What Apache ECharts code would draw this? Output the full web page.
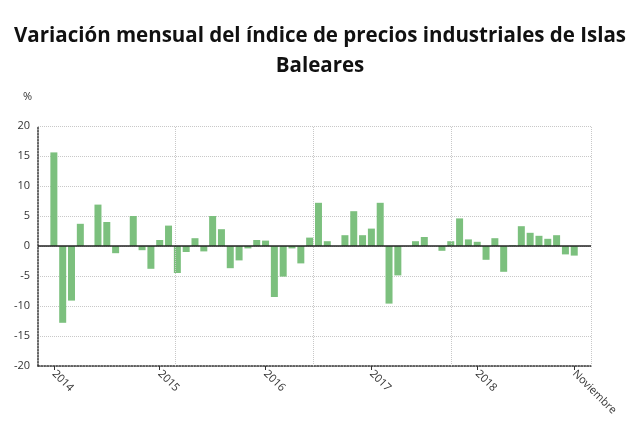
<!DOCTYPE html>
<html lang="es">
<head>
    <meta charset="UTF-8">
    <title>Variación mensual IPRI Baleares</title>
    <script src="https://cdn.jsdelivr.net/npm/echarts@6/dist/echarts.min.js"></script>
    <style>
        html, body { margin: 0; padding: 0; background: #fff; }
    </style>
</head>
<body>
<div id="main" style="width: 640px;height:431px;"></div>

<script type="text/javascript">
    // meses, enero 2014 .. diciembre 2018
    var months = [];
    for (var y = 2014; y <= 2018; y++) {
        for (var m = 1; m <= 12; m++) {
            months.push(y + '-' + (m < 10 ? '0' + m : m));
        }
    }

    // variación mensual (%)
    var values = [
        15.6, -12.8, -9.1, 3.7, 0, 6.9, 4.0, -1.2, 0, 5.0, -0.7, -3.8,
        1.0, 3.4, -4.5, -1.0, 1.3, -0.9, 5.0, 2.8, -3.7, -2.4, -0.4, 1.0,
        0.9, -8.5, -5.1, -0.4, -2.9, 1.4, 7.2, 0.8, 0, 1.8, 5.8, 1.8,
        2.9, 7.2, -9.6, -4.9, 0, 0.8, 1.5, 0, -0.8, 0.8, 4.6, 1.1,
        0.7, -2.3, 1.3, -4.3, 0.1, 3.3, 2.2, 1.7, 1.2, 1.8, -1.4, -1.6
    ];

    // etiquetas del eje x
    var tickIndex = [0, 12, 24, 36, 48, 59];
    var tickLabels = ['2014', '2015', '2016', '2017', '2018', 'Noviembre'];

    // lineas verticales de la rejilla (en posiciones de mes)
    var gridX = [13.8, 29.4, 45.1, 60.9];

    var yTicks = { min: -20, max: 20, interval: 5 };

    var myChart = echarts.init(document.getElementById('main'));

    var barData = values.map(function (v, i) { return [i, v]; });

    var option = {
        animation: false,
        textStyle: { fontFamily: 'Open Sans' },
        title: {
            text: 'Variación mensual del índice de precios industriales de Islas\nBaleares',
            left: 'center',
            top: 16,
            textStyle: {
                fontFamily: 'Open Sans',
                fontWeight: 'bold',
                fontSize: 20.5,
                lineHeight: 30,
                color: '#111'
            }
        },
        graphic: [{
            type: 'text',
            left: 23,
            top: 91,
            style: { text: '%', font: '11px "Open Sans"', fill: '#333' }
        }],
        grid: { left: 38, right: 49, top: 126, bottom: 65 },
        xAxis: {
            type: 'value',
            min: -1.8,
            max: 60.9,
            splitLine: { show: false },
            axisLine: { show: true, onZero: false, lineStyle: { color: '#333', type: 'dotted', width: 1.5 } },
            axisTick: { show: true, customValues: tickIndex, length: 4, lineStyle: { color: '#333' } },
            axisLabel: {
                customValues: tickIndex,
                rotate: -45,
                color: '#333',
                fontSize: 11,
                margin: 6,
                formatter: function (v) {
                    var k = tickIndex.indexOf(Math.round(v));
                    return k >= 0 ? tickLabels[k] : '';
                }
            }
        },
        yAxis: {
            type: 'value',
            min: yTicks.min,
            max: yTicks.max,
            interval: yTicks.interval,
            axisLine: { show: true, onZero: false, lineStyle: { color: '#333', type: 'dotted', width: 1.5 } },
            axisTick: { show: false },
            axisLabel: { color: '#333', fontSize: 11, margin: 8 },
            splitLine: { lineStyle: { color: '#c8c8c8', type: 'dotted' } }
        },
        series: [{
            type: 'bar',
            data: barData,
            barWidth: 7,
            itemStyle: { color: '#7cc07e' },
            markLine: {
                silent: true,
                symbol: 'none',
                label: { show: false },
                data: gridX.map(function (x) {
                    return { xAxis: x, lineStyle: { color: '#c8c8c8', type: 'dotted', width: 1 } };
                }).concat([
                    { yAxis: 0, lineStyle: { color: '#222', type: 'solid', width: 1.5 } }
                ])
            }
        }]
    };

    myChart.setOption(option);
</script>
</body>
</html>
